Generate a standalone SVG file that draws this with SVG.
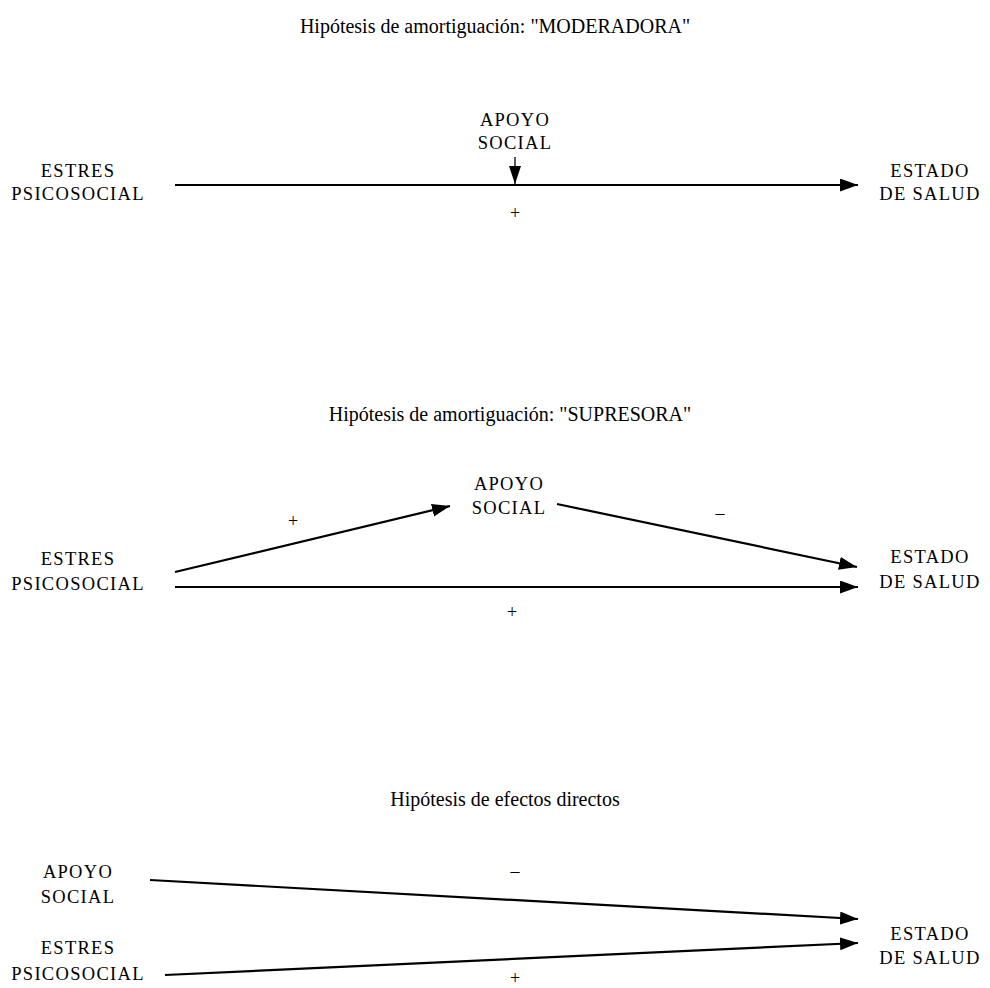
<svg xmlns="http://www.w3.org/2000/svg" width="990" height="988" viewBox="0 0 990 988">
<style>
text{font-family:"Liberation Serif","Times New Roman",serif;fill:#000}
.t{font-size:20px;text-anchor:middle}
.l{font-size:18.5px;text-anchor:middle;letter-spacing:1.3px}
.s{font-size:18px;text-anchor:middle}
.c{stroke:#000;stroke-width:2.2;fill:none}
.v{stroke:#000;stroke-width:1.3;fill:none}
</style>
<defs>
<marker id="ah" markerUnits="userSpaceOnUse" markerWidth="20" markerHeight="14" refX="18" refY="6.5" orient="auto">
<path d="M0,0 L18,6.5 L0,13 z" fill="#000"/>
</marker>
<marker id="av" markerUnits="userSpaceOnUse" markerWidth="20" markerHeight="14" refX="18" refY="6" orient="auto">
<path d="M0,0 L18,6 L0,12 z" fill="#000"/>
</marker>
</defs>
<rect width="990" height="988" fill="#fff"/>

<text class="t" x="495" y="33">Hipótesis de amortiguación: "MODERADORA"</text>
<text class="t" x="510" y="421">Hipótesis de amortiguación: "SUPRESORA"</text>
<text class="t" x="505" y="806">Hipótesis de efectos directos</text>

<g id="connectors">
<line class="v" x1="515" y1="157" x2="515" y2="184" marker-end="url(#av)"/>
<line class="c" x1="175" y1="185" x2="858" y2="185" marker-end="url(#ah)"/>
<line class="c" x1="175" y1="572" x2="450" y2="506" marker-end="url(#ah)"/>
<line class="c" x1="557" y1="504" x2="857" y2="567" marker-end="url(#ah)"/>
<line class="c" x1="175" y1="587" x2="858" y2="587" marker-end="url(#ah)"/>
<line class="c" x1="150" y1="880" x2="858" y2="919" marker-end="url(#ah)"/>
<line class="c" x1="165" y1="975" x2="858" y2="943" marker-end="url(#ah)"/>
<text class="s" x="515" y="219">+</text>
<text class="s" x="293" y="527">+</text>
<text class="s" x="720" y="519">–</text>
<text class="s" x="512" y="618">+</text>
<text class="s" x="515" y="877">–</text>
<text class="s" x="515" y="984">+</text>
</g>

<g id="d1-apoyo"><text class="l" x="515" y="126">APOYO</text><text class="l" x="515" y="149">SOCIAL</text></g>
<g id="d1-estres"><text class="l" x="78" y="177">ESTRES</text><text class="l" x="78" y="200">PSICOSOCIAL</text></g>
<g id="d1-estado"><text class="l" x="930" y="177">ESTADO</text><text class="l" x="930" y="200">DE SALUD</text></g>

<g id="d2-apoyo"><text class="l" x="509" y="490">APOYO</text><text class="l" x="509" y="514">SOCIAL</text></g>
<g id="d2-estres"><text class="l" x="78" y="565">ESTRES</text><text class="l" x="78" y="590">PSICOSOCIAL</text></g>
<g id="d2-estado"><text class="l" x="930" y="563">ESTADO</text><text class="l" x="930" y="588">DE SALUD</text></g>

<g id="d3-apoyo"><text class="l" x="78" y="878">APOYO</text><text class="l" x="78" y="903">SOCIAL</text></g>
<g id="d3-estres"><text class="l" x="78" y="954">ESTRES</text><text class="l" x="78" y="980">PSICOSOCIAL</text></g>
<g id="d3-estado"><text class="l" x="930" y="940">ESTADO</text><text class="l" x="930" y="964">DE SALUD</text></g>
</svg>
